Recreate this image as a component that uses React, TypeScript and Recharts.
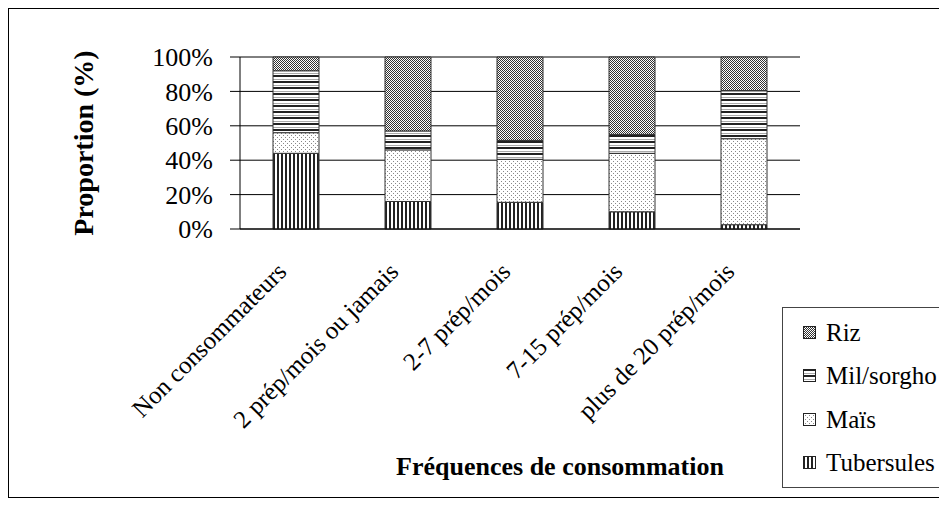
import { BarChart, Bar, XAxis, YAxis, CartesianGrid } from 'recharts';

const categories = [
  'Non consommateurs',
  '2 prép/mois ou jamais',
  '2-7 prép/mois',
  '7-15 prép/mois',
  'plus de 20 prép/mois',
];
const tubersules = [44, 16, 15.5, 10, 2.5];
const mais = [12, 30, 25, 34, 50];
const milSorgho = [36, 11, 11, 11, 28];
const riz = [8, 43, 48.5, 45, 19.5];
const yTicks = [0, 20, 40, 60, 80, 100];
const boundaryTicks = [0, 1, 2, 3, 4, 5];

const data = categories.map((name, i) => ({
  name,
  tubersules: tubersules[i],
  mais: mais[i],
  mil: milSorgho[i],
  riz: riz[i],
}));

const series = [
  { key: 'riz', label: 'Riz', fill: 'url(#pat-riz)' },
  { key: 'mil', label: 'Mil/sorgho', fill: 'url(#pat-mil)' },
  { key: 'mais', label: 'Maïs', fill: 'url(#pat-mais)' },
  { key: 'tubersules', label: 'Tubersules', fill: 'url(#pat-tub)' },
];

const FONT = "'Liberation Serif', 'Times New Roman', serif";

function Patterns() {
  return (
    <defs>
      <pattern id="pat-tub" width="4" height="4" patternUnits="userSpaceOnUse">
        <rect width="4" height="4" fill="#fff" />
        <rect width="2" height="4" fill="#222" />
      </pattern>
      <pattern id="pat-mais" width="4" height="4" patternUnits="userSpaceOnUse">
        <rect width="4" height="4" fill="#fff" />
        <rect x="0" y="0" width="1" height="1" fill="#888" />
        <rect x="2" y="2" width="1" height="1" fill="#888" />
      </pattern>
      <pattern id="pat-mil" width="4" height="6" patternUnits="userSpaceOnUse">
        <rect width="4" height="6" fill="#fff" />
        <rect y="0" width="4" height="2" fill="#222" />
        <rect y="4" width="4" height="1" fill="#aaa" />
      </pattern>
      <pattern id="pat-riz" width="2" height="2" patternUnits="userSpaceOnUse">
        <rect width="2" height="2" fill="#fff" />
        <rect x="0" y="0" width="1" height="1" fill="#333" />
        <rect x="1" y="1" width="1" height="1" fill="#333" />
      </pattern>
    </defs>
  );
}

const XTick = ({ x, y, payload }: any) => (
  <text
    x={x - 8}
    y={y + 36}
    transform={`rotate(-45, ${x - 8}, ${y + 36})`}
    textAnchor="end"
    fontFamily={FONT}
    fontSize={25}
    fill="#000"
  >
    {payload.value}
  </text>
);

// axis title sits a little right of the plot centre, as in the source
const XTitle = ({ viewBox }: any) => (
  <text
    x={viewBox.x + viewBox.width / 2 + 40}
    y={viewBox.y + viewBox.height - 22}
    textAnchor="middle"
    fontFamily={FONT}
    fontSize={26}
    fontWeight="bold"
    fill="#000"
  >
    Fréquences de consommation
  </text>
);

const LegendBox = () => (
  <div
    style={{
      position: 'absolute',
      left: 773,
      top: 298,
      border: '1px solid #444',
      borderRight: 'none',
      width: 170,
      height: 181,
      boxSizing: 'border-box',
      padding: '3px 0 0 20px',
      fontFamily: FONT,
      fontSize: 25,
      background: '#fff',
    }}
  >
    {series.map(s => (
      <div key={s.key} style={{ display: 'flex', alignItems: 'center', height: 43.5, whiteSpace: 'nowrap' }}>
        <svg width={14} height={14} style={{ marginRight: 9, flexShrink: 0 }}>
          <rect x={0.5} y={0.5} width={12} height={12} fill={s.fill} stroke="#222" />
        </svg>
        <span>{s.label}</span>
      </div>
    ))}
  </div>
);

export default function App() {
  return (
    <div
      style={{
        position: 'relative',
        width: 939,
        height: 490,
        border: '1px solid #000',
        borderRight: 'none',
        boxSizing: 'border-box',
        background: '#fff',
        overflow: 'hidden',
      }}
    >
      <BarChart
        width={938}
        height={488}
        data={data}
        margin={{ top: 48, right: 147, left: 0, bottom: 0 }}
        barSize={46}
      >
        <Patterns />
        <CartesianGrid vertical={false} stroke="#000" />
        <XAxis
          xAxisId="b"
          type="number"
          domain={[0, 5]}
          ticks={boundaryTicks}
          interval={0}
          tickFormatter={() => ''}
          axisLine={false}
          tickLine={{ stroke: '#000' }}
          tickSize={8}
          height={0}
        />
        <XAxis
          dataKey="name"
          interval={0}
          tick={<XTick />}
          tickLine={false}
          axisLine={{ stroke: '#000' }}
          height={268}
          label={<XTitle />}
        />
        <YAxis
          domain={[0, 100]}
          ticks={yTicks}
          interval={0}
          tickFormatter={(v: number) => `${v}%`}
          width={231}
          tickSize={10}
          tickMargin={17}
          axisLine={{ stroke: '#000' }}
          tickLine={{ stroke: '#000' }}
          tick={{ fontFamily: FONT, fontSize: 26, fill: '#000' }}
          label={{
            value: 'Proportion (%)',
            angle: -90,
            position: 'insideLeft',
            offset: 74,
            style: { textAnchor: 'middle', fontFamily: FONT, fontSize: 28, fontWeight: 'bold', fill: '#000' },
          }}
        />
        <YAxis yAxisId="r" orientation="right" width={0} tick={false} tickLine={false} axisLine={{ stroke: '#888' }} />
        <Bar dataKey="tubersules" stackId="a" fill="url(#pat-tub)" stroke="#333" isAnimationActive={false} />
        <Bar dataKey="mais" stackId="a" fill="url(#pat-mais)" stroke="#333" isAnimationActive={false} />
        <Bar dataKey="mil" stackId="a" fill="url(#pat-mil)" stroke="#333" isAnimationActive={false} />
        <Bar dataKey="riz" stackId="a" fill="url(#pat-riz)" stroke="#333" isAnimationActive={false} />
      </BarChart>
      <LegendBox />
    </div>
  );
}
